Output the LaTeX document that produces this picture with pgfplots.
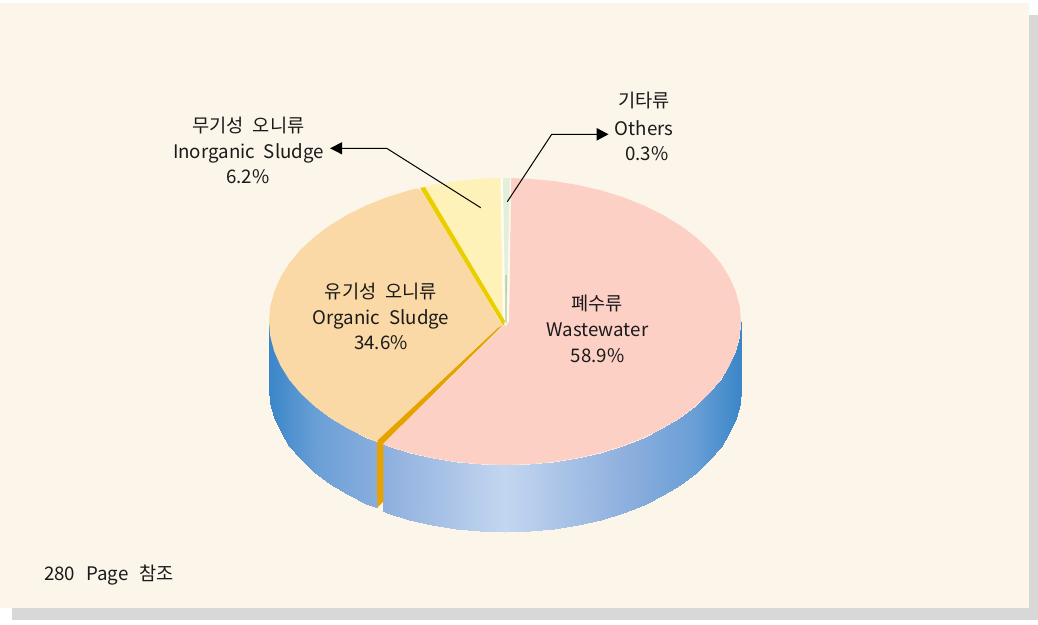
\documentclass[border=0pt]{standalone}
\usepackage{fontspec}
\setmainfont[WordSpace=2.1]{Noto Sans CJK KR}
\usepackage{pgfplots}
\pgfplotsset{compat=1.18}
\definecolor{cardc}{HTML}{FCF5E9}
\definecolor{shadc}{HTML}{D8D8D8}
\definecolor{pinkf}{HTML}{FDD0C5}
\definecolor{orgf}{HTML}{FAD9A6}
\definecolor{yelf}{HTML}{FFF2B8}
\definecolor{othf}{HTML}{E3EFD9}
\definecolor{othd}{HTML}{B4D49F}
\definecolor{gapf}{HTML}{FFFBF2}
\definecolor{orgs}{HTML}{E8A200}
\definecolor{yels}{HTML}{EACF00}
\definecolor{txt}{HTML}{1A1A1A}
\newcommand{\lab}[3]{\node[text=txt,font=\fontsize{18.7}{20}\selectfont,inner sep=0pt,anchor=base] at (axis cs:#1,#2) {#3};}
\pgfplotsset{colormap={sidemap}{rgb255(0cm)=(195,214,240) rgb255(5cm)=(143,176,222) rgb255(8cm)=(106,159,214) rgb255(10cm)=(58,134,200)}}
\begin{document}
\begin{tikzpicture}
\begin{axis}[
  scale only axis, width=1038pt, height=624pt,
  xmin=0, xmax=1038, ymin=0, ymax=624, y dir=reverse,
  hide axis, clip=true,
  colormap name=sidemap,
  point meta min=0, point meta max=1,
]
% page, card and shadow
\addplot[fill=white,draw=none] coordinates {(0,0)(1038,0)(1038,624)(0,624)};
\addplot[fill=shadc,draw=none] coordinates {(12,15)(1038,15)(1038,620)(12,620)};
\addplot[fill=cardc,draw=none] coordinates {(0,3)(1029,3)(1029,608)(0,608)};
% side, right part
\addplot[surf,shader=interp,mesh/rows=2,point meta=explicit] table[meta=c,row sep=\\] {
x y c\\
383 444.3 .517\\ 387 445.8 .5\\ 409 452.6 .407\\ 432.1 458 .309\\ 455.9 461.9 .208\\ 480.3 464.2 .105\\ 505 465 0\\ 529.7 464.2 .105\\ 554.1 461.9 .208\\ 577.9 458 .309\\ 601 452.6 .407\\ 623 445.8 .5\\ 643.7 437.6 .588\\ 662.9 428.1 .669\\ 680.4 417.5 .743\\ 695.9 405.8 .809\\ 709.4 393.3 .866\\ 720.6 379.9 .914\\ 729.4 365.8 .951\\ 735.8 351.3 .978\\ 739.7 336.5 .995\\ 741 321.5 1\\
383 511.3 .517\\ 387 512.8 .5\\ 409 519.6 .407\\ 432.1 525 .309\\ 455.9 528.9 .208\\ 480.3 531.2 .105\\ 505 532 0\\ 529.7 531.2 .105\\ 554.1 528.9 .208\\ 577.9 525 .309\\ 601 519.6 .407\\ 623 512.8 .5\\ 643.7 504.6 .588\\ 662.9 495.1 .669\\ 680.4 484.5 .743\\ 695.9 472.8 .809\\ 709.4 460.3 .866\\ 720.6 446.9 .914\\ 729.4 432.8 .951\\ 735.8 418.3 .978\\ 739.7 403.5 .995\\ 741 388.5 1\\
};
% side, left part
\addplot[surf,shader=interp,mesh/rows=2,point meta=explicit] table[meta=c,row sep=\\] {
x y c\\
269 321.5 1\\ 270.3 336.5 .995\\ 274.2 351.3 .978\\ 280.6 365.8 .951\\ 289.4 379.9 .914\\ 300.6 393.3 .866\\ 314.1 405.8 .809\\ 329.6 417.5 .743\\ 347.1 428.1 .669\\ 366.3 437.6 .588\\ 377.5 442.3 .54\\
269 387.5 1\\ 270.3 402.5 .995\\ 274.2 417.3 .978\\ 280.6 431.8 .951\\ 289.4 445.9 .914\\ 300.6 459.3 .866\\ 314.1 471.8 .809\\ 329.6 483.5 .743\\ 347.1 494.1 .669\\ 366.3 503.6 .588\\ 377.5 507.5 .54\\
};
% orange edge on the side
\addplot[fill=orgs,draw=none] coordinates {(377,441)(383.3,443)(383.3,501.7)(377.3,507.5)};
% wastewater 58.9
\addplot[fill=pinkf,draw=none] coordinates {(511,178)(529.7,178.8)(554.1,181.1)(577.9,185)(601,190.4)(623,197.2)(643.7,205.4)(662.9,214.9)(680.4,225.5)(695.9,237.2)(709.4,249.7)(720.6,263.1)(729.4,277.2)(735.8,291.7)(739.7,306.5)(741,321.5)(739.7,336.5)(735.8,351.3)(729.4,365.8)(720.6,379.9)(709.4,393.3)(695.9,405.8)(680.4,417.5)(662.9,428.1)(643.7,437.6)(623,445.8)(601,452.6)(577.9,458)(554.1,461.9)(529.7,464.2)(505,465)(480.3,464.2)(455.9,461.9)(432.1,458)(409,452.6)(387,445.8)(383,444.3)(504.6,324.5)(509,321)};
% organic sludge 34.6
\addplot[fill=orgf,draw=none] coordinates {(377.5,442.3)(366.3,437.6)(347.1,428.1)(329.6,417.5)(314.1,405.8)(300.6,393.3)(289.4,379.9)(280.6,365.8)(274.2,351.3)(270.3,336.5)(269,321.5)(270.3,306.5)(274.2,291.7)(280.6,277.2)(289.4,263.1)(300.6,249.7)(314.1,237.2)(329.6,225.5)(347.1,214.9)(366.3,205.4)(387,197.2)(409,190.4)(417,188.4)(421.5,191)(503,325)};
% inorganic sludge 6.2
\addplot[fill=yelf,draw=none] coordinates {(423,187.2)(432.1,185)(455.9,181.1)(480.3,178.8)(500.5,178)(503,322)(500,322)};
% gap and others 0.3
\addplot[fill=gapf,draw=none] coordinates {(500.5,178)(511,178)(509,321)(506,326)(503,322)};
\addplot[fill=othf,draw=none] coordinates {(503,178)(510,178.1)(506.6,323)(505.4,323)};
\addplot[fill=othd,draw=none] coordinates {(505.3,275)(506.9,275)(506.5,323)(505.5,323)};
% edge strips
\addplot[fill=yels,draw=none] coordinates {(420,187.8)(425,187.1)(505,321)(503.5,325)(501,322)};
\addplot[fill=orgs,draw=none] coordinates {(377,441)(383.3,443.5)(505,323)(503,325)(498,328)};
% leaders
\addplot[black,line width=1pt,line join=round] coordinates {(480.7,207.7)(386.7,148.3)(340,148.3)};
\addplot[fill=black,draw=none] coordinates {(330,148.3)(342,142.2)(342,154.4)};
\addplot[black,line width=1pt,line join=round] coordinates {(507.3,201.7)(551.7,134.3)(598,134.3)};
\addplot[fill=black,draw=none] coordinates {(608.5,134.3)(596.7,128)(596.7,140.6)};
% labels
\lab{248.5}{132}{무기성 오니류}
\lab{248.5}{158}{Inorganic Sludge}
\lab{248}{183}{6.2\%}
\lab{644}{107.5}{기타류}
\lab{644}{135}{Others}
\lab{647}{160}{0.3\%}
\lab{381}{298}{유기성 오니류}
\lab{381}{324}{Organic Sludge}
\lab{381}{349.5}{34.6\%}
\lab{597}{310}{폐수류}
\lab{597.5}{336}{Wastewater}
\lab{597.5}{362}{58.9\%}
\node[text=txt,font=\fontsize{18.7}{20}\selectfont,inner sep=0pt,anchor=base west] at (axis cs:44,580.5) {280\hspace{11pt}Page\hspace{11pt}참조};
\end{axis}
\end{tikzpicture}
\end{document}
